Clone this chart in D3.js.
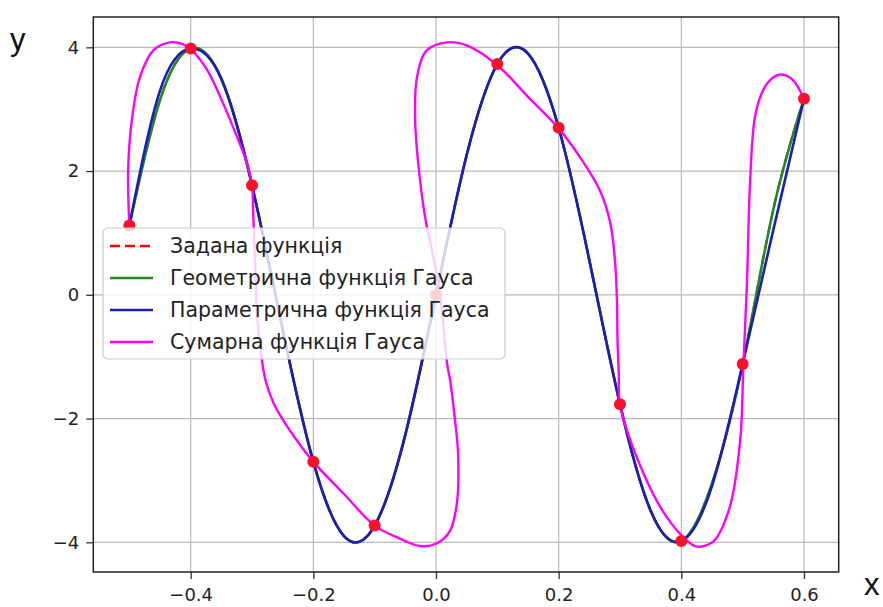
<!DOCTYPE html>
<html>
<head>
<meta charset="utf-8">
<script src="https://cdn.jsdelivr.net/npm/d3@7"></script>
<style>
  body { margin: 0; background: #fff; }
  svg { display: block; font-family: "DejaVu Sans", sans-serif; }
</style>
</head>
<body>
<svg id="chart" width="883" height="607"></svg>
<script>
// tick values on both axes
const xTicks = [-0.4, -0.2, 0.0, 0.2, 0.4, 0.6];
const yTicks = [-4, -2, 0, 2, 4];

// the given nodes (red dots)
const nodeX = [-0.5, -0.4, -0.3, -0.2, -0.1, 0.0, 0.1, 0.2, 0.3, 0.4, 0.5, 0.6];
const nodeY = [1.12, 3.98, 1.77, -2.70, -3.73, 0.0, 3.73, 2.70, -1.77, -3.98, -1.12, 3.17];

const curveX = [-0.5, -0.45, -0.4, -0.35, -0.3, -0.25, -0.2, -0.15, -0.1, -0.05, 0.0,
  0.05, 0.1, 0.15, 0.2, 0.25, 0.3, 0.35, 0.4, 0.45, 0.5, 0.55, 0.6];
const givenY = [1.12, 3.15, 3.98, 3.49, 1.77, -0.56, -2.70, -3.90, -3.73, -2.26, 0.0,
  2.26, 3.73, 3.90, 2.70, 0.56, -1.77, -3.49, -3.98, -3.05, -1.12, 1.38, 3.17];
const geomY = [1.12, 3.15, 3.98, 3.49, 1.77, -0.56, -2.70, -3.90, -3.73, -2.26, 0.0,
  2.26, 3.73, 3.90, 2.70, 0.56, -1.77, -3.49, -3.98, -3.05, -1.12, 1.38, 3.17];
const paramY = [1.12, 3.30, 3.98, 3.49, 1.77, -0.56, -2.70, -3.90, -3.73, -2.26, 0.0,
  2.26, 3.73, 3.90, 2.70, 0.56, -1.77, -3.49, -3.98, -3.09, -1.12, 1.05, 3.17];

// the summed Gauss curve loops back on itself, so it is kept as (x, y) pairs in path order
const sumX = [-0.5, -0.502, -0.496, -0.483, -0.461, -0.434, -0.413, -0.398, -0.373, -0.347,
  -0.324, -0.308, -0.3, -0.298, -0.295, -0.292, -0.286, -0.278, -0.265, -0.249, -0.225, -0.2,
  -0.15, -0.1, -0.059, -0.026, 0.001, 0.023, 0.034, 0.036, 0.031, 0.023, 0.018, 0.009, 0.001,
  -0.01, -0.015, -0.026, -0.034, -0.031, -0.015, 0.018, 0.05, 0.1, 0.15, 0.2, 0.235, 0.267,
  0.284, 0.292, 0.295, 0.296, 0.298, 0.3, 0.338, 0.376, 0.409, 0.425, 0.452, 0.479, 0.496,
  0.501, 0.507, 0.512, 0.52, 0.533, 0.548, 0.564, 0.582, 0.6];
const sumY = [1.12, 2.01, 2.82, 3.51, 3.95, 4.08, 4.05, 3.95, 3.63, 3.09,
  2.54, 2.12, 1.77, 1.29, 0.56, -0.25, -0.90, -1.38, -1.75, -2.03, -2.38, -2.70,
  -3.22, -3.73, -3.94, -4.06, -4.02, -3.81, -3.37, -2.57, -2.03, -1.38, -1.11, -0.20, 0.34,
  0.88, 1.10, 1.85, 2.82, 3.52, 3.95, 4.08, 4.03, 3.71, 3.20, 2.69, 2.22, 1.69,
  1.17, 0.53, -0.09, -0.74, -1.27, -1.77, -2.88, -3.59, -3.97, -4.07, -3.99, -3.43, -2.35,
  -1.20, 0.19, 1.80, 2.87, 3.30, 3.50, 3.56, 3.47, 3.17];

const legendLabels = ['Задана функція', 'Геометрична функція Гауса',
  'Параметрична функція Гауса', 'Сумарна функція Гауса'];

const colors = { given: '#ff0000', geom: '#1f8a1f', param: '#1c1cb8', sum: '#ff00ff' };

// plot box in pixels
const box = { left: 93.3, right: 838.7, top: 17, bottom: 572 };

const svg = d3.select('#chart');

const xScale = d3.scaleLinear().domain([-0.5588, 0.6566]).range([box.left, box.right]);
const yScale = d3.scaleLinear().domain([-4.48, 4.49]).range([box.bottom, box.top]);

// grid
const grid = svg.append('g').attr('stroke', '#b9b9b9').attr('stroke-width', 1.2);
grid.selectAll('.gx').data(xTicks).join('line')
  .attr('x1', (d) => xScale(d)).attr('x2', (d) => xScale(d))
  .attr('y1', box.top).attr('y2', box.bottom);
grid.selectAll('.gy').data(yTicks).join('line')
  .attr('y1', (d) => yScale(d)).attr('y2', (d) => yScale(d))
  .attr('x1', box.left).attr('x2', box.right);

svg.append('clipPath').attr('id', 'clip').append('rect')
  .attr('x', box.left).attr('y', box.top)
  .attr('width', box.right - box.left).attr('height', box.bottom - box.top);

const plot = svg.append('g').attr('clip-path', 'url(#clip)');

// curves that are functions of x use a natural spline
const fnLine = d3.line()
  .x((d) => xScale(d[0]))
  .y((d) => yScale(d[1]))
  .curve(d3.curveNatural);

const pairs = (xs, ys) => xs.map((x, i) => [x, ys[i]]);

plot.append('path').datum(pairs(curveX, givenY))
  .attr('d', fnLine).attr('fill', 'none')
  .attr('stroke', colors.given).attr('stroke-width', 2.2).attr('stroke-dasharray', '10,5');
plot.append('path').datum(pairs(curveX, geomY))
  .attr('d', fnLine).attr('fill', 'none')
  .attr('stroke', colors.geom).attr('stroke-width', 2.6);
plot.append('path').datum(pairs(curveX, paramY))
  .attr('d', fnLine).attr('fill', 'none')
  .attr('stroke', colors.param).attr('stroke-width', 2.6);

// the looping curve needs a parametric spline
const loopLine = d3.line()
  .x((d) => xScale(d[0]))
  .y((d) => yScale(d[1]))
  .curve(d3.curveCatmullRom.alpha(0.5));

plot.append('path').datum(pairs(sumX, sumY))
  .attr('d', loopLine).attr('fill', 'none')
  .attr('stroke', colors.sum).attr('stroke-width', 2.4);

// red nodes on top
plot.selectAll('circle').data(pairs(nodeX, nodeY)).join('circle')
  .attr('cx', (d) => xScale(d[0]))
  .attr('cy', (d) => yScale(d[1]))
  .attr('r', 6)
  .attr('fill', '#f8102c');

// axes
const xAxis = d3.axisBottom(xScale).tickValues(xTicks).tickSize(7).tickPadding(9)
  .tickFormat(d3.format('.1f'));
const yAxis = d3.axisLeft(yScale).tickValues(yTicks).tickSize(7).tickPadding(7)
  .tickFormat(d3.format('d'));

const gx = svg.append('g').attr('transform', `translate(0 ${box.bottom})`).call(xAxis);
const gy = svg.append('g').attr('transform', `translate(${box.left} 0)`).call(yAxis);
[gx, gy].forEach((g) => {
  g.select('.domain').remove();
  g.selectAll('.tick line').attr('stroke', '#333').attr('stroke-width', 1.3);
  g.selectAll('.tick text').attr('fill', '#222')
    .style('font-family', '"DejaVu Sans", sans-serif').style('font-size', '18px');
});

// frame
svg.append('rect')
  .attr('x', box.left).attr('y', box.top)
  .attr('width', box.right - box.left).attr('height', box.bottom - box.top)
  .attr('fill', 'none').attr('stroke', '#222').attr('stroke-width', 1.5);

// axis letters
svg.append('text').attr('x', 10).attr('y', 50).text('y')
  .style('font-family', '"Liberation Sans", sans-serif').style('font-size', '31px').attr('fill', '#111');
svg.append('text').attr('x', 864).attr('y', 595).text('x')
  .style('font-family', '"Liberation Sans", sans-serif').style('font-size', '31px').attr('fill', '#111');

// legend
const legend = svg.append('g');
legend.append('rect')
  .attr('x', 103).attr('y', 228).attr('width', 402).attr('height', 131)
  .attr('rx', 5).attr('fill', 'white').attr('fill-opacity', 0.8)
  .attr('stroke', '#cccccc').attr('stroke-width', 1.2);

const legendColors = [colors.given, colors.geom, colors.param, colors.sum];
const legendRows = legend.selectAll('.row').data(legendLabels).join('g')
  .attr('transform', (d, i) => `translate(0 ${246 + i * 32})`);
legendRows.append('line')
  .attr('x1', 110).attr('x2', 153).attr('y1', 0).attr('y2', 0)
  .attr('stroke', (d, i) => legendColors[i]).attr('stroke-width', 2.6)
  .attr('stroke-dasharray', (d, i) => (i === 0 ? '10,5' : null));
legendRows.append('text')
  .attr('x', 170).attr('y', 0).attr('dy', '0.36em')
  .attr('fill', '#222').style('font-size', '20.5px')
  .text((d) => d);
</script>
</body>
</html>
